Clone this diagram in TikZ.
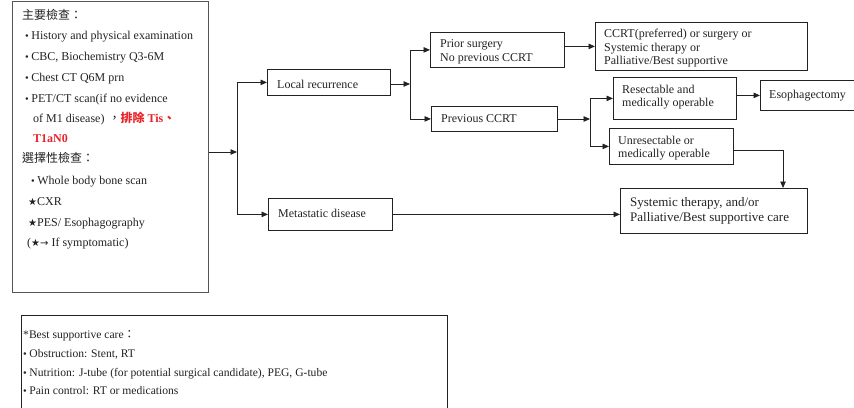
\documentclass[tikz,border=0pt]{standalone}
\usepackage{fontspec}
\setmainfont{Liberation Serif}
\newfontfamily\cjk{Noto Sans CJK TC}
\newfontfamily\sym{DejaVu Sans}
\usetikzlibrary{arrows.meta}
\definecolor{ink}{HTML}{222222}
\definecolor{alert}{HTML}{E8242A}
\definecolor{frame}{HTML}{555555}
\newcommand{\bul}{{\fontsize{10.5}{10}\selectfont\textbullet}\hspace{2.5pt}}
\newcommand{\mystar}{{\sym\fontsize{10}{10}\selectfont ★}}
\tikzset{
  box/.style={draw=ink, line width=0.8pt, anchor=north west, inner sep=0pt},
  panel/.style={draw=frame, line width=0.9pt, anchor=north west, inner sep=0pt},
  lbl/.style={anchor=base west, inner sep=0pt, text=ink, font=\fontsize{12}{13}\selectfont},
  small/.style={lbl, font=\fontsize{11.6}{13}\selectfont},
  big/.style={lbl, font=\fontsize{13}{14}\selectfont},
  link/.style={draw=ink, line width=0.8pt},
  arr/.style={link, -{Triangle[length=6.5pt,width=5.5pt]}},
}
\begin{document}
\begin{tikzpicture}[x=1pt,y=-1pt]
\useasboundingbox (0,0) rectangle (854,407);

% examination panel
\node[panel, minimum width=196pt, minimum height=291pt] (lb) at (12,1) {};
\node[lbl] (l1) at (22,19) {\cjk 主要檢查：};
\node[lbl] (l2) at (25,39) {\bul History and physical examination};
\node[lbl] (l3) at (25,60) {\bul CBC, Biochemistry Q3-6M};
\node[lbl] (l4) at (25,81) {\bul Chest CT Q6M prn};
\node[lbl] (l5) at (25,102) {\bul PET/CT scan(if no evidence};
\node[lbl] (l6) at (33,122) {of M1 disease)\hspace{4pt}{\cjk ，}{\color{alert}\bfseries{\cjk 排除} Tis{\cjk 、}}};
\node[lbl] (l7) at (33,142) {\color{alert}\bfseries T1aN0};
\node[lbl] (l8) at (22,162) {\cjk 選擇性檢查：};
\node[lbl] (l9) at (31,184) {\bul Whole body bone scan};
\node[lbl] (l10) at (28,205) {\mystar CXR};
\node[lbl] (l11) at (28,226) {\mystar PES/ Esophagography};
\node[lbl] (l12) at (27,246) {(\mystar{\sym\fontsize{10}{10}\selectfont →} If symptomatic)};

% supportive care panel
\node[box, minimum width=426pt, minimum height=100pt] (bb) at (21,315) {};
\node[small] (b1) at (23,338) {*Best supportive care{\cjk ：}};
\node[small] (b2) at (23,357) {\bul Obstruction: Stent, RT};
\node[small] (b3) at (23,376) {\bul Nutrition: J-tube (for potential surgical candidate), PEG, G-tube};
\node[small] (b4) at (23,394) {\bul Pain control: RT or medications};

% decision boxes
\node[box, minimum width=123pt, minimum height=26pt] (lr) at (267,69) {};
\node[lbl] (lrt) at (277,88) {Local recurrence};
\node[box, minimum width=124pt, minimum height=32pt] (meta) at (268,198) {};
\node[lbl] (metat) at (278,217) {Metastatic disease};

\node[box, minimum width=134pt, minimum height=35pt] (prior) at (430,32) {};
\node[lbl] (priort1) at (440,47) {Prior surgery};
\node[lbl] (priort2) at (440,61) {No previous CCRT};
\node[box, minimum width=126pt, minimum height=25pt] (prev) at (431,106) {};
\node[lbl] (prevt) at (441,122) {Previous CCRT};

\node[box, minimum width=212pt, minimum height=48pt] (ccrt) at (595,22) {};
\node[lbl] (ccrt1) at (604,37) {CCRT(preferred) or surgery or};
\node[lbl] (ccrt2) at (604,51) {Systemic therapy or};
\node[lbl] (ccrt3) at (604,64) {Palliative/Best supportive};

\node[box, minimum width=123pt, minimum height=42pt] (res) at (613,77) {};
\node[lbl] (res1) at (622,93) {Resectable and};
\node[lbl] (res2) at (622,106) {medically operable};
\node[box, minimum width=94pt, minimum height=30pt] (eso) at (760,80) {};
\node[lbl] (esot) at (769,98) {Esophagectomy};

\node[box, minimum width=124pt, minimum height=36pt] (unres) at (609,128) {};
\node[lbl] (unres1) at (618,144) {Unresectable or};
\node[lbl] (unres2) at (618,157) {medically operable};

\node[box, minimum width=187pt, minimum height=45pt] (sys) at (620,188) {};
\node[big] (sys1) at (630,206) {Systemic therapy, and/or};
\node[big] (sys2) at (630,221) {Palliative/Best supportive care};

% junction points
\coordinate (j1) at (237,152);
\coordinate (j2) at (410,84);
\coordinate (j3) at (590,119);
\coordinate (bend) at (783,150);

% connectors
\draw[arr] (lb.east |- j1) -- (j1);
\draw[link] (j1 |- lr.west) -- (j1 |- meta.west);
\draw[arr] (j1 |- lr.west) -- (lr.west);
\draw[arr] (j1 |- meta.west) -- (meta.west);

\draw[arr] (lr.east |- j2) -- (j2);
\draw[link] (j2 |- prior.west) -- (j2 |- prev.west);
\draw[arr] (j2 |- prior.west) -- (prior.west);
\draw[arr] (j2 |- prev.west) -- (prev.west);

\draw[arr] (prior.east |- ccrt.west) -- (ccrt.west);

\draw[arr] (prev.east |- j3) -- (j3);
\draw[link] (j3 |- res.west) -- (j3 |- unres.west);
\draw[arr] (j3 |- res.west) -- (res.west);
\draw[arr] (j3 |- unres.west) -- (unres.west);

\draw[arr] (res.east |- eso.west) -- (eso.west);
\draw[arr] (unres.east |- bend) -- (bend) -- (bend |- sys.north);
\draw[arr] (meta.east) -- (sys.west |- meta.east);
\end{tikzpicture}
\end{document}
